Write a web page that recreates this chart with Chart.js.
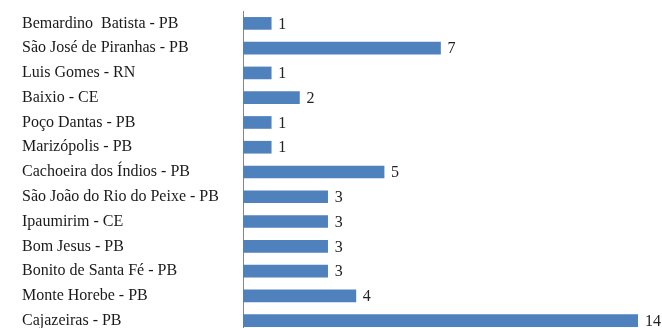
<!DOCTYPE html>
<html>
<head>
<meta charset="utf-8">
<script src="https://cdn.jsdelivr.net/npm/chart.js@4/dist/chart.umd.min.js"></script>
<style>
  html, body { margin: 0; padding: 0; background: #fff; overflow: hidden; }
  canvas { display: block; }
</style>
</head>
<body>
<canvas id="cidades" width="662" height="334"></canvas>
<script>
const cidades = [
    'Bemardino  Batista - PB',
    'São José de Piranhas - PB',
    'Luis Gomes - RN',
    'Baixio - CE',
    'Poço Dantas - PB',
    'Marizópolis - PB',
    'Cachoeira dos Índios - PB',
    'São João do Rio do Peixe - PB',
    'Ipaumirim - CE',
    'Bom Jesus - PB',
    'Bonito de Santa Fé - PB',
    'Monte Horebe - PB',
    'Cajazeiras - PB'
];
const quantidades = [1, 7, 1, 2, 1, 1, 5, 3, 3, 3, 3, 4, 14];
const maxEixo = 14;

const fonte = { family: "'Liberation Serif', 'Times New Roman', serif", size: 16 };

// numero ao lado de cada barra
const rotulosValor = {
    id: 'rotulosValor',
    afterDatasetsDraw(chart) {
        const ctx = chart.ctx;
        const meta = chart.getDatasetMeta(0);
        ctx.save();
        ctx.font = `${fonte.size}px ${fonte.family}`;
        ctx.fillStyle = '#222';
        ctx.textAlign = 'left';
        ctx.textBaseline = 'middle';
        meta.data.forEach((bar, i) => {
            ctx.fillText(String(quantidades[i]), bar.x + 7, bar.y + 1);
        });
        ctx.restore();
    }
};

new Chart(document.getElementById('cidades'), {
    type: 'bar',
    data: {
        labels: cidades,
        datasets: [{
            data: quantidades,
            backgroundColor: '#4F81BD',
            borderWidth: 0,
            barThickness: 12
        }]
    },
    options: {
        indexAxis: 'y',
        responsive: false,
        animation: false,
        layout: { padding: { left: 22, right: 24, top: 11, bottom: 1 } },
        plugins: {
            legend: { display: false },
            tooltip: { enabled: false }
        },
        scales: {
            x: {
                display: false,
                min: 0,
                max: maxEixo
            },
            y: {
                afterFit(scale) {
                    scale.width = 221;
                    // sem folga extra em cima/embaixo por causa dos rotulos
                    scale.paddingTop = 0;
                    scale.paddingBottom = 0;
                },
                grid: { display: false, drawTicks: false },
                border: { display: true, color: '#868686', width: 1 },
                ticks: {
                    crossAlign: 'far',
                    padding: 0,
                    color: '#1a1a1a',
                    font: fonte,
                    autoSkip: false
                }
            }
        }
    },
    plugins: [rotulosValor]
});
</script>
</body>
</html>
